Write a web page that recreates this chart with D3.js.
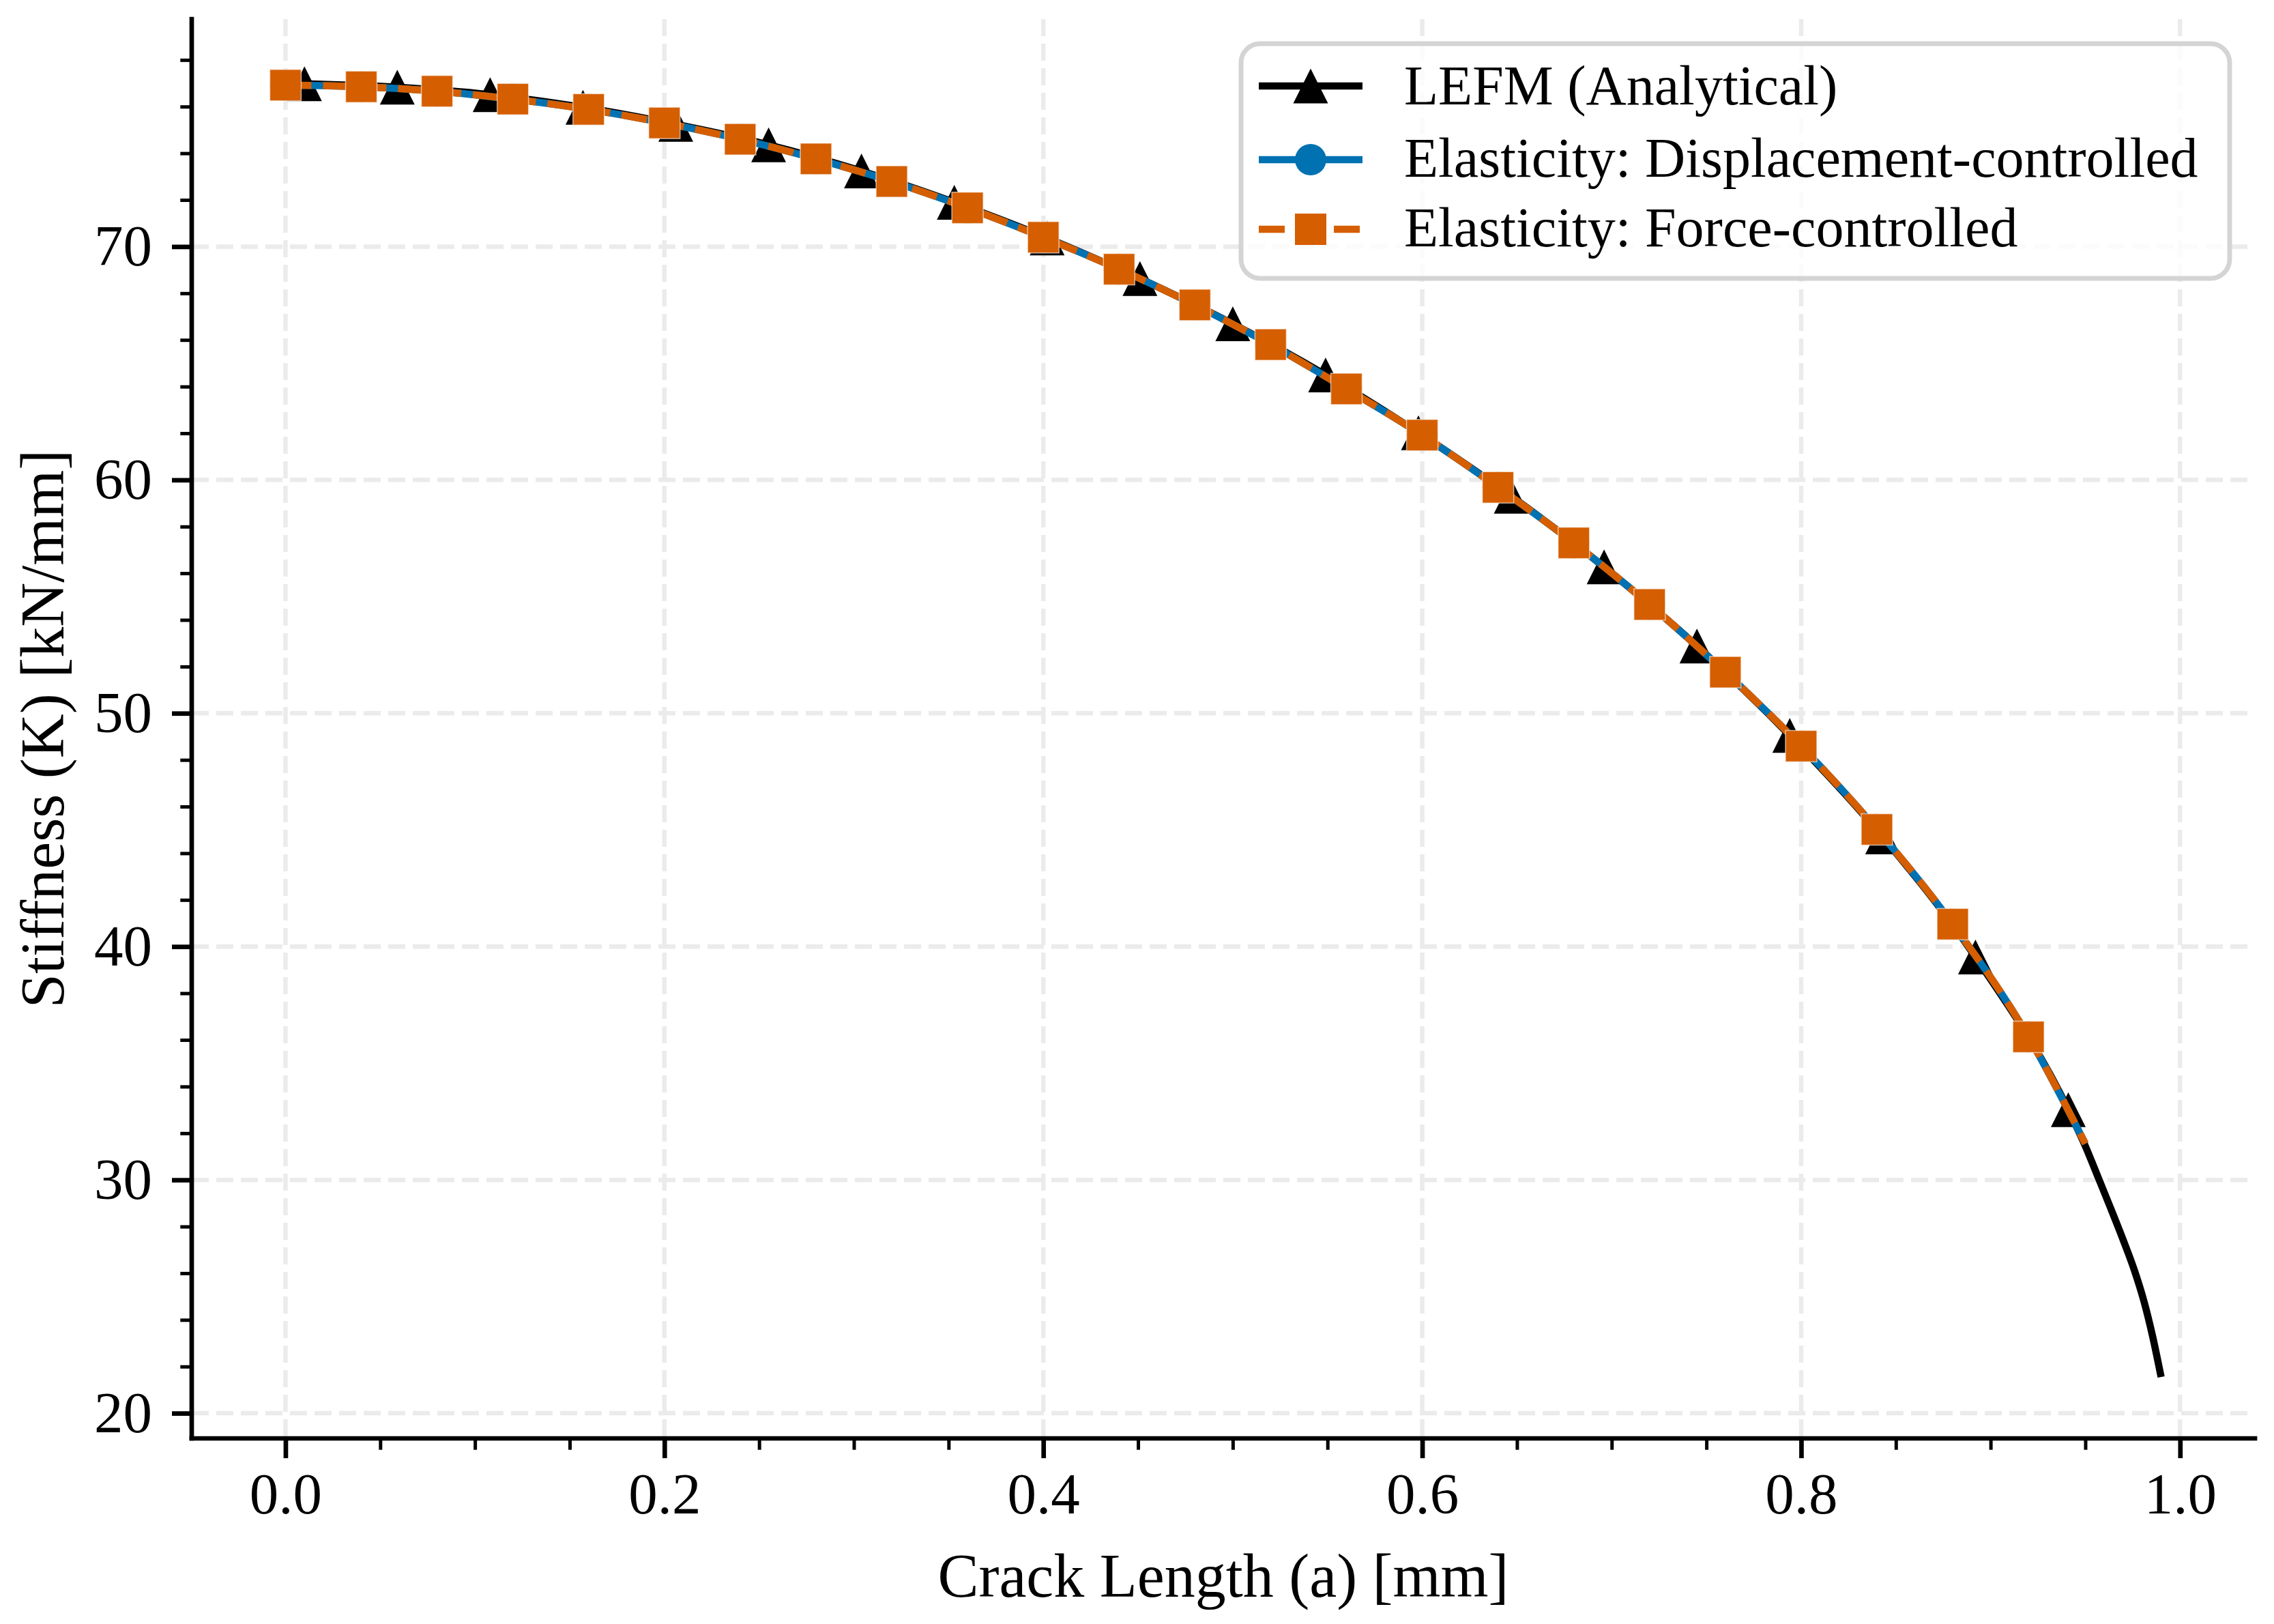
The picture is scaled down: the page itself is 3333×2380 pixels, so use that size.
<!DOCTYPE html>
<html>
<head>
<meta charset="utf-8">
<script src="https://cdn.jsdelivr.net/npm/d3@7"></script>
<style>
  html, body { margin: 0; padding: 0; background: #ffffff; }
  svg { display: block; }
</style>
</head>
<body>
<svg id="chart" width="3333" height="2380"></svg>
<script>
// ---------------- data ----------------
const xTicks = [0.0, 0.2, 0.4, 0.6, 0.8, 1.0];
const xTickLabels = ["0.0", "0.2", "0.4", "0.6", "0.8", "1.0"];
const xMinorTicks = [0.05, 0.10, 0.15, 0.25, 0.30, 0.35, 0.45, 0.50, 0.55, 0.65, 0.70, 0.75, 0.85, 0.90, 0.95];
const yTicks = [20, 30, 40, 50, 60, 70];
const yTickLabels = ["20", "30", "40", "50", "60", "70"];
const yMinorTicks = [22, 24, 26, 28, 32, 34, 36, 38, 42, 44, 46, 48, 52, 54, 56, 58, 62, 64, 66, 68, 72, 74, 76, 78];

// LEFM (Analytical): crack length [mm] and stiffness [kN/mm]
const lefmA = [0.010, 0.059, 0.108, 0.157, 0.206, 0.255, 0.304, 0.353, 0.402, 0.451,
               0.500, 0.549, 0.598, 0.647, 0.696, 0.745, 0.794, 0.843, 0.892, 0.941,
               0.950, 0.957, 0.963, 0.970, 0.976, 0.981, 0.9855, 0.990];
const lefmK = [76.98, 76.83, 76.51, 75.97, 75.24, 74.36, 73.24, 71.90, 70.37, 68.63,
               66.69, 64.50, 62.02, 59.30, 56.27, 52.88, 49.05, 44.70, 39.55, 33.01,
               31.45, 30.06, 28.86, 27.42, 26.10, 24.78, 23.30, 21.55];
const lefmMarkerCount = 20;   // markers drawn on the first 20 points

// Elasticity series
const elasticA = [0.00, 0.04, 0.08, 0.12, 0.16, 0.20, 0.24, 0.28, 0.32, 0.36,
                  0.40, 0.44, 0.48, 0.52, 0.56, 0.60, 0.64, 0.68, 0.72, 0.76,
                  0.80, 0.84, 0.88, 0.92, 0.95];
const dispK  = [76.92, 76.85, 76.66, 76.32, 75.88, 75.30, 74.60, 73.76, 72.79, 71.66,
                70.40, 69.03, 67.50, 65.80, 63.90, 61.92, 59.68, 57.30, 54.66, 51.76,
                48.59, 45.02, 40.96, 36.13, 31.55];
const forceK = [76.92, 76.85, 76.66, 76.32, 75.88, 75.30, 74.60, 73.76, 72.79, 71.66,
                70.40, 69.03, 67.50, 65.80, 63.90, 61.92, 59.68, 57.30, 54.66, 51.76,
                48.59, 45.02, 40.96, 36.13, 31.55];
const elasticMarkerCount = 24;

const seriesNames = ["LEFM (Analytical)", "Elasticity: Displacement-controlled", "Elasticity: Force-controlled"];
const seriesColors = ["#000000", "#0072B2", "#D55E00"];

const xDomain = [-0.0495, 1.0395];
const yDomain = [18.92, 79.75];

// ---------------- layout ----------------
const plot = { left: 281, right: 3305, top: 28, bottom: 2108 };
const FONT = "'Liberation Serif', 'Times New Roman', serif";
const svg = d3.select("#chart");
svg.append("rect").attr("width", 3333).attr("height", 2380).attr("fill", "#ffffff");

const x = d3.scaleLinear().domain(xDomain).range([plot.left, plot.right]);
const y = d3.scaleLinear().domain(yDomain).range([plot.bottom, plot.top]);

// grid
const grid = svg.append("g").attr("class", "grid");
grid.selectAll("line.gx").data(xTicks).join("line")
  .attr("class", "gx")
  .attr("x1", d => x(d)).attr("x2", d => x(d))
  .attr("y1", plot.top).attr("y2", plot.bottom)
  .attr("stroke", "#ebebeb").attr("stroke-width", 6.5).attr("stroke-dasharray", "25,11");
grid.selectAll("line.gy").data(yTicks).join("line")
  .attr("class", "gy")
  .attr("y1", d => y(d)).attr("y2", d => y(d))
  .attr("x1", plot.left).attr("x2", plot.right)
  .attr("stroke", "#ebebeb").attr("stroke-width", 6.5).attr("stroke-dasharray", "25,11");

// axes
const gx = svg.append("g").attr("transform", `translate(0,${plot.bottom})`)
  .call(d3.axisBottom(x).tickValues(xTicks).tickFormat((d, i) => xTickLabels[i])
        .tickSizeInner(29).tickSizeOuter(0).tickPadding(29));
gx.select(".domain").remove();
gx.attr("font-family", FONT).attr("font-size", 85);
gx.selectAll(".tick line").attr("stroke", "#000").attr("stroke-width", 6.7);
gx.selectAll(".tick text").attr("y", 110).attr("dy", null).attr("fill", "#000");

const gxm = svg.append("g").attr("transform", `translate(0,${plot.bottom})`)
  .call(d3.axisBottom(x).tickValues(xMinorTicks).tickFormat("").tickSizeInner(16.7).tickSizeOuter(0));
gxm.select(".domain").remove();
gxm.selectAll(".tick line").attr("stroke", "#000").attr("stroke-width", 5);

const gy = svg.append("g").attr("transform", `translate(${plot.left},0)`)
  .call(d3.axisLeft(y).tickValues(yTicks).tickFormat((d, i) => yTickLabels[i])
        .tickSizeInner(29).tickSizeOuter(0).tickPadding(29));
gy.select(".domain").remove();
gy.attr("font-family", FONT).attr("font-size", 85);
gy.selectAll(".tick line").attr("stroke", "#000").attr("stroke-width", 6.7);
gy.selectAll(".tick text").attr("fill", "#000");

const gym = svg.append("g").attr("transform", `translate(${plot.left},0)`)
  .call(d3.axisLeft(y).tickValues(yMinorTicks).tickFormat("").tickSizeInner(16.7).tickSizeOuter(0));
gym.select(".domain").remove();
gym.selectAll(".tick line").attr("stroke", "#000").attr("stroke-width", 5);

// spines
svg.append("line").attr("x1", plot.left).attr("x2", plot.left).attr("y1", plot.top).attr("y2", plot.bottom)
  .attr("stroke", "#000").attr("stroke-width", 6.7).attr("stroke-linecap", "square");
svg.append("line").attr("x1", plot.left).attr("x2", plot.right).attr("y1", plot.bottom).attr("y2", plot.bottom)
  .attr("stroke", "#000").attr("stroke-width", 6.7).attr("stroke-linecap", "square");

// axis labels
svg.append("text").attr("x", (plot.left + plot.right) / 2).attr("y", 2340)
  .attr("text-anchor", "middle").attr("font-family", FONT).attr("font-size", 90).attr("fill", "#000")
  .text("Crack Length (a) [mm]");
svg.append("text").attr("transform", `translate(93,${(plot.top + plot.bottom) / 2}) rotate(-90)`)
  .attr("text-anchor", "middle").attr("font-family", FONT).attr("font-size", 90).attr("fill", "#000")
  .text("Stiffness (K) [kN/mm]");

// ---------------- series ----------------
const lineGen = d3.line().x(d => x(d[0])).y(d => y(d[1])).curve(d3.curveMonotoneX);
const LW = 10.5;
const TRI = 51, SQ = 46, CIRC = 46;
const triPath = `M0,${-TRI / 2}L${TRI / 2},${TRI / 2}L${-TRI / 2},${TRI / 2}Z`;

const lefmPts = lefmA.map((a, i) => [a, lefmK[i]]);
const dispPts = elasticA.map((a, i) => [a, dispK[i]]);
const forcePts = elasticA.map((a, i) => [a, forceK[i]]);

const data = svg.append("g").attr("class", "series");

// LEFM
data.append("path").datum(lefmPts).attr("d", lineGen)
  .attr("fill", "none").attr("stroke", seriesColors[0]).attr("stroke-width", LW).attr("stroke-linejoin", "round");
data.append("g").selectAll("path").data(lefmPts.slice(0, lefmMarkerCount)).join("path")
  .attr("d", triPath).attr("transform", d => `translate(${x(d[0])},${y(d[1])})`)
  .attr("fill", seriesColors[0]);

// Displacement-controlled
data.append("path").datum(dispPts).attr("d", lineGen)
  .attr("fill", "none").attr("stroke", seriesColors[1]).attr("stroke-width", LW).attr("stroke-linejoin", "round");
data.append("g").selectAll("circle").data(dispPts.slice(0, elasticMarkerCount)).join("circle")
  .attr("cx", d => x(d[0])).attr("cy", d => y(d[1])).attr("r", CIRC / 2)
  .attr("fill", seriesColors[1]);

// Force-controlled
data.append("path").datum(forcePts).attr("d", lineGen)
  .attr("fill", "none").attr("stroke", seriesColors[2]).attr("stroke-width", LW)
  .attr("stroke-dasharray", "38,17");
data.append("g").selectAll("rect").data(forcePts.slice(0, elasticMarkerCount)).join("rect")
  .attr("x", d => x(d[0]) - SQ / 2).attr("y", d => y(d[1]) - SQ / 2)
  .attr("width", SQ).attr("height", SQ)
  .attr("fill", seriesColors[2]).attr("stroke", "#ffffff").attr("stroke-opacity", 0.6).attr("stroke-width", 1.5);

// ---------------- legend ----------------
const leg = svg.append("g").attr("class", "legend");
leg.append("rect").attr("x", 1819).attr("y", 64).attr("width", 1449).attr("height", 344)
  .attr("rx", 28).attr("ry", 28)
  .attr("fill", "#ffffff").attr("fill-opacity", 0.8)
  .attr("stroke", "#d4d4d4").attr("stroke-width", 7);

const rowY = [126, 234, 336];
const textY = [153, 259, 361];
const hx0 = 1845, hx1 = 1997, hmx = 1921;

seriesNames.forEach((name, i) => {
  const line = leg.append("line").attr("x1", hx0).attr("x2", hx1).attr("y1", rowY[i]).attr("y2", rowY[i])
    .attr("stroke", seriesColors[i]).attr("stroke-width", LW);
  if (i === 2) line.attr("stroke-dasharray", "38,17");
  if (i === 0) {
    leg.append("path").attr("d", triPath).attr("transform", `translate(${hmx},${rowY[i]})`).attr("fill", seriesColors[i]);
  } else if (i === 1) {
    leg.append("circle").attr("cx", hmx).attr("cy", rowY[i]).attr("r", CIRC / 2).attr("fill", seriesColors[i]);
  } else {
    leg.append("rect").attr("x", hmx - SQ / 2).attr("y", rowY[i] - SQ / 2).attr("width", SQ).attr("height", SQ)
      .attr("fill", seriesColors[i]);
  }
  leg.append("text").attr("x", 2058).attr("y", textY[i])
    .attr("font-family", FONT).attr("font-size", 82).attr("fill", "#000")
    .text(name);
});
</script>
</body>
</html>
